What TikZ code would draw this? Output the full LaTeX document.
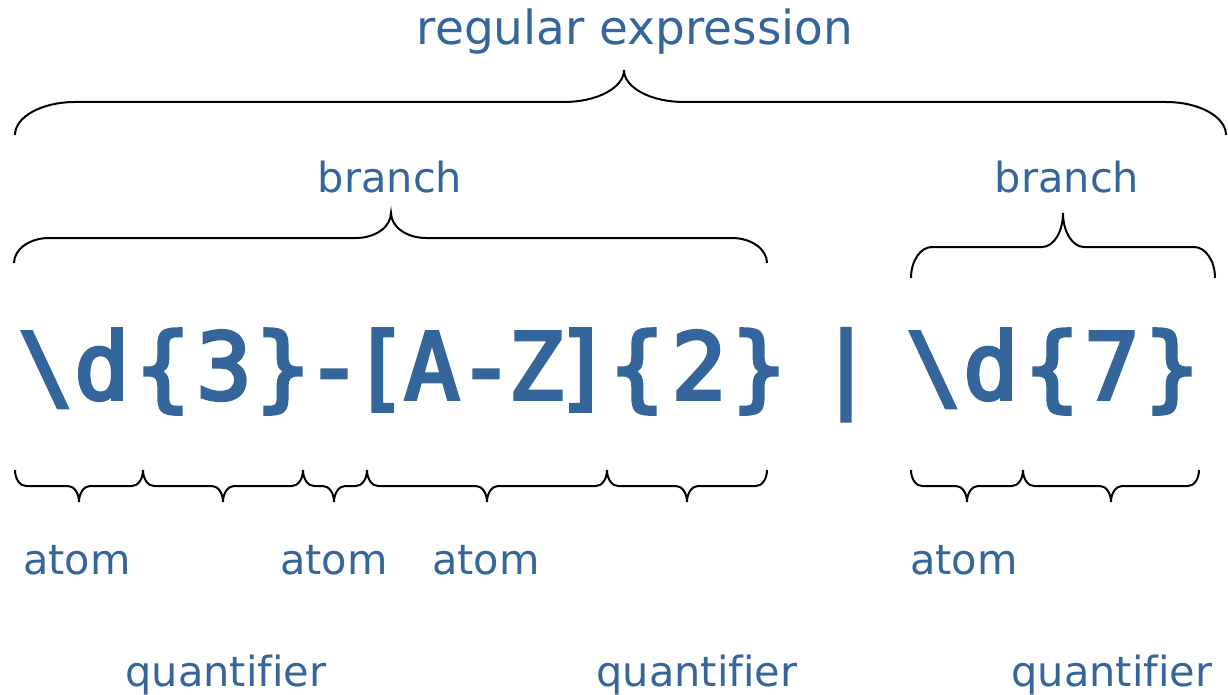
\documentclass[tikz,border=0pt]{standalone}
\usepackage{fontspec}
\setmainfont{DejaVu Sans}[Ligatures=NoCommon]
\newfontfamily\regexfont{DejaVu Sans Mono}[FakeBold=4]
\definecolor{RegexBlue}{HTML}{34669B}

% curly brace between x1 and x2, tip at xm: #4 end y, #5 flat y, #6 tip y, #7 curl size
\newcommand{\regbrace}[7]{%
  \draw[bracestroke] (#1,#4)
    .. controls (#1,{#4+0.552*(#5-#4)}) and ({#1+0.448*#7},#5) .. ({#1+#7},#5)
    -- ({#2-#7},#5)
    .. controls ({#2-0.448*#7},#5) and (#2,{#6+0.552*(#5-#6)}) .. (#2,#6)
    .. controls (#2,{#6+0.552*(#5-#6)}) and ({#2+0.448*#7},#5) .. ({#2+#7},#5)
    -- ({#3-#7},#5)
    .. controls ({#3-0.448*#7},#5) and (#3,{#4+0.552*(#5-#4)}) .. (#3,#4);%
}

\tikzset{
  labeltext/.style={text=RegexBlue, font=\fontsize{41.5}{48}\selectfont, anchor=base, inner sep=0pt},
  titletext/.style={labeltext, font=\fontsize{47}{54}\selectfont},
  regexchar/.style={text=RegexBlue, font=\regexfont\fontsize{92}{100}\selectfont, anchor=base, inner sep=0pt},
  bracestroke/.style={draw=black, line width=2pt}
}

\begin{document}
\begin{tikzpicture}[x=1pt,y=-1pt]
  \useasboundingbox (0,0) rectangle (1228,695);

  % labels above
  \node[titletext] (regex) at (635,45) {regular expression};
  \node[labeltext] (branchL) at (390,193) {branch};
  \node[labeltext] (branchR) at (1067,193) {branch};

  % the expression, one character at a time
  \foreach \ch/\cx [count=\i] in {{\textbackslash}/46, d/102, {\{}/163, 3/224, {\}}/283,
      -/334, {[}/380, A/432, -/486, Z/536, {]}/583, {\{}/637, 2/699, {\}}/759,
      {|}/846, {\textbackslash}/934, d/991, {\{}/1052, 7/1112, {\}}/1172}
    \node[regexchar] (ch\i) at (\cx,399) {\ch};

  % labels below
  \foreach \ax [count=\i] in {77,334,486,964}
    \node[labeltext] (atom\i) at (\ax,574) {atom};
  \foreach \qx [count=\i] in {226,697,1112}
    \node[labeltext] (quant\i) at (\qx,686) {quantifier};

  % braces
  \regbrace{15}{624}{1226}{135}{102}{70}{60}
  \regbrace{14}{391}{767}{263}{238}{213}{35}
  \regbrace{911}{1063}{1215}{278}{247}{213}{21}
  \foreach \xa/\xm/\xb in {15/79/143, 143/223/303, 303/334/367, 367/487/607,
      607/687/767, 911/967/1023, 1023/1111/1199}
    {\regbrace{\xa}{\xm}{\xb}{470}{486}{502}{11}}
\end{tikzpicture}
\end{document}
